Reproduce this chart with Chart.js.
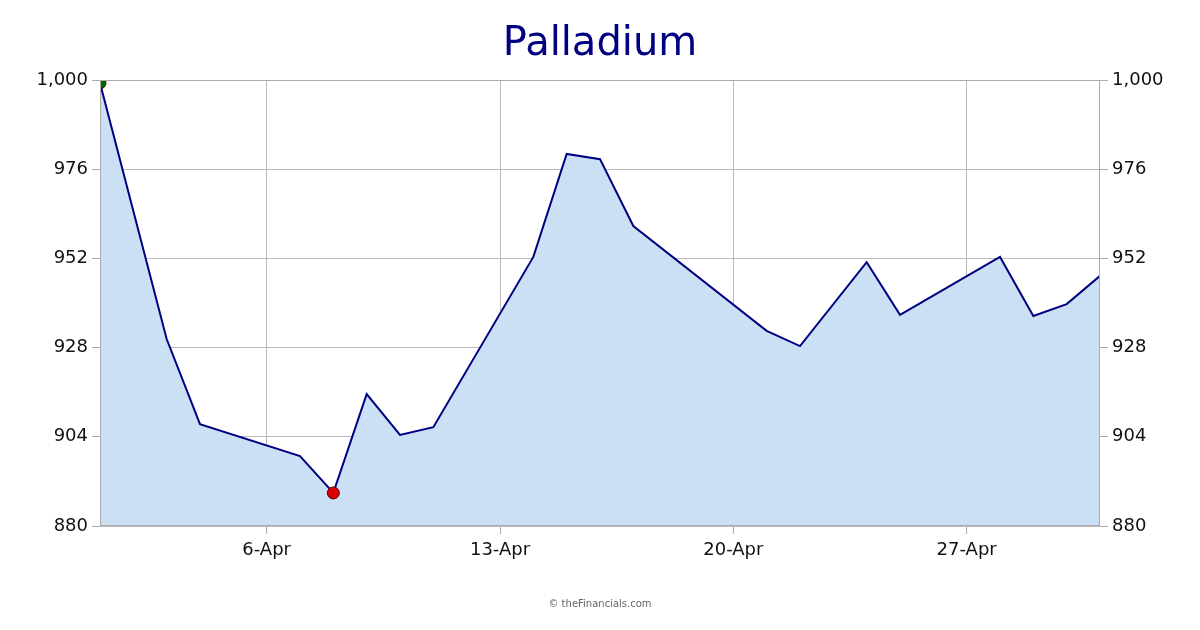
<!DOCTYPE html>
<html><head><meta charset="utf-8">
<script src="https://cdn.jsdelivr.net/npm/chart.js@4"></script>
<style>body{margin:0;background:#fff}canvas{display:block}</style>
</head><body>
<canvas id="c" width="1200" height="630"></canvas>
<script>
const days = [1,3,4,7,8,9,10,11,14,15,16,17,21,22,24,25,28,29,30,31];
const prices = [999.2,930.3,907.4,898.8,888.9,915.5,904.5,906.6,952.4,980.1,978.7,960.7,932.5,928.4,951,936.8,952.4,936.5,939.7,947.3];
const tickDays = [6,13,20,27];
const tickLabels = ['6-Apr','13-Apr','20-Apr','27-Apr'];
const yTicks = [880,904,928,952,976,1000];
const FONT = 'DejaVu Sans';
const minIdx = prices.indexOf(Math.min(...prices));
const overlay = {id:'overlay', afterDraw(ch){const c=ch.ctx;c.save();
 c.fillStyle='#000080';c.font='40px '+FONT;c.textAlign='center';c.textBaseline='middle';c.fillText('Palladium',600,45);
 c.fillStyle='#666';c.font='10px '+FONT;c.fillText('© theFinancials.com',600,604);
 const a=ch.chartArea;c.strokeStyle='#aaa';c.lineWidth=1;c.strokeRect(a.left+0.5,a.top+0.5,a.right-a.left-1,a.bottom-a.top-1);
 c.restore();}};
const yAxis = (pos)=>({position:pos,min:880,max:1000,afterBuildTicks(s){s.ticks=yTicks.map(v=>({value:v}));},
 afterFit(s){s.width=100;},
 grid:{color:'#bbb',drawTicks:true,tickLength:8,tickColor:'#aaa',borderDash:[1,1]},border:{display:false},
 ticks:{color:'#111',font:{family:FONT,size:18},callback:v=>v.toLocaleString('en-US'),padding:4}});
new Chart(document.getElementById('c'),{type:'line',
 data:{datasets:[{data:days.map((d,i)=>({x:d,y:prices[i]})),borderColor:'#000080',borderWidth:2,backgroundColor:'#cce0f5',fill:'start',tension:0,
  pointRadius:ctx=>(ctx.dataIndex===0||ctx.dataIndex===minIdx)?6:0,
  pointBackgroundColor:ctx=>ctx.dataIndex===0?'#006600':'#dd0000',pointBorderColor:'#660000',pointBorderWidth:1}]},
 options:{responsive:false,animation:false,layout:{padding:{top:80,left:0,right:0,bottom:0}},
  plugins:{legend:{display:false},tooltip:{enabled:false}},
  scales:{x:{type:'linear',min:1,max:31,afterBuildTicks(s){s.ticks=tickDays.map(v=>({value:v}));},afterFit(s){s.height=104;},
   grid:{color:'#bbb',tickLength:8,tickColor:'#aaa',borderDash:[1,1]},border:{display:false},
   ticks:{color:'#111',font:{family:FONT,size:18},maxRotation:0,padding:6,callback:v=>tickLabels[tickDays.indexOf(v)]}},
   y:yAxis('left'),y2:yAxis('right')}},
 plugins:[overlay]});
</script></body></html>
